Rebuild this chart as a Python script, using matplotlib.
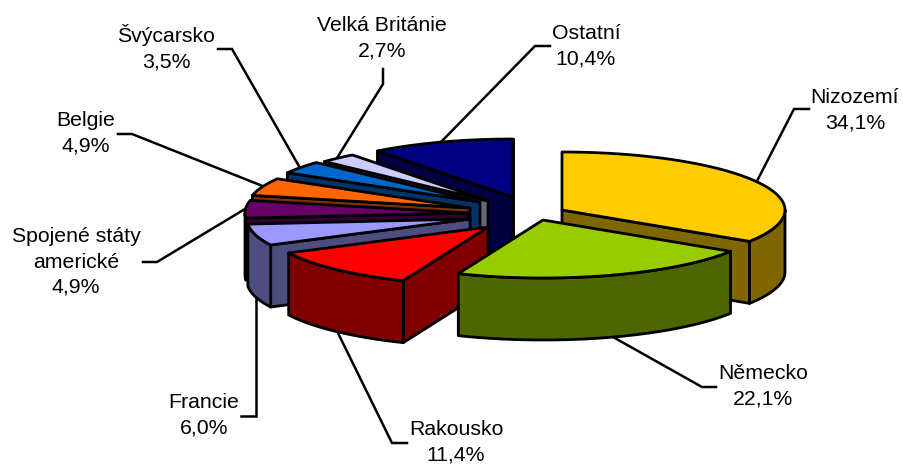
import numpy as np
import matplotlib
matplotlib.use("Agg")
import matplotlib.pyplot as plt
from matplotlib.patches import Polygon

categories = ["Nizozemí", "Německo", "Rakousko", "Francie", "Spojené státy\namerické",
              "Belgie", "Švýcarsko", "Velká Británie", "Ostatní"]
values = [34.1, 22.1, 11.4, 6.0, 4.9, 4.9, 3.5, 2.7, 10.4]
top_colors = ["#FFCC00", "#99CC00", "#FF0000", "#9999FF", "#660066",
              "#FF6600", "#0066CC", "#CCCCFF", "#000080"]
side_colors = ["#806600", "#4D6600", "#800000", "#4D4D80", "#330033",
               "#803300", "#003366", "#666680", "#000040"]

# rozlozeni v pixelech
CENTER = (505, 210)
RX, RY, DEPTH = 223, 58, 62
EXPLODE = [(57, 0), (38, 10), (-17, 17), (-35, 9), (-37, 3),
           (-35, -2), (-25, -8), (-17, -9), (8, -13)]
LABEL_POS = [(855, 110), (763, 386), (456, 442), (204, 415), (76, 262),
             (86, 133), (166, 48), (382, 38), (586, 46)]
LEADERS = [[(809, 109), (794, 109), (757, 181)],
           [(716, 387), (702, 387), (613, 337)],
           [(407, 443), (392, 443), (337, 331)],
           [(241, 416), (256, 416), (256, 297)],
           [(143, 262), (157, 262), (245, 209)],
           [(118, 134), (132, 134), (265, 187)],
           [(218, 49), (232, 49), (300, 168)],
           [(383, 69), (383, 84), (337, 158)],
           [(550, 46), (535, 46), (440, 143)]]
LW = 2.0

fig = plt.figure(figsize=(9.04, 4.66), dpi=100)
ax = fig.add_axes([0, 0, 1, 1])
ax.set_xlim(0, 904)
ax.set_ylim(466, 0)
ax.axis("off")

edges = np.cumsum([0] + values) / sum(values) * 2 * np.pi


def rim(x0, y0, a, b):
    t = np.linspace(a, b, 60)
    return np.column_stack([x0 + RX * np.sin(t), y0 - RY * np.cos(t)])


def face(pts, color, z):
    ax.add_patch(Polygon(pts, closed=True, facecolor=color, edgecolor="black",
                         linewidth=LW, joinstyle="round", zorder=z))


def draw_slice(i, z):
    a, b = edges[i], edges[i + 1]
    x0 = CENTER[0] + EXPLODE[i][0]
    y0 = CENTER[1] + EXPLODE[i][1]
    down = np.array([0, DEPTH])
    apex = np.array([[x0, y0]])
    # rezy viditelne jen kdyz miri k divakovi
    if np.sin(a) < 0:
        p = rim(x0, y0, a, a)[:1]
        face(np.vstack([apex, p, p + down, apex + down]), side_colors[i], z)
    if np.sin(b) > 0:
        p = rim(x0, y0, b, b)[:1]
        face(np.vstack([apex, p, p + down, apex + down]), side_colors[i], z)
    # vnejsi plast
    lo, hi = max(a, np.pi / 2), min(b, 3 * np.pi / 2)
    if hi > lo:
        r = rim(x0, y0, lo, hi)
        face(np.vstack([r, (r + down)[::-1]]), side_colors[i], z)
    face(np.vstack([apex, rim(x0, y0, a, b)]), top_colors[i], z)


mids = (edges[:-1] + edges[1:]) / 2
for z, i in enumerate(np.argsort(-np.cos(mids))):
    draw_slice(i, z + 5)

for line in LEADERS:
    xs, ys = zip(*line)
    ax.plot(xs, ys, color="black", lw=1.8, zorder=2, solid_joinstyle="miter")

for name, val, pos in zip(categories, values, LABEL_POS):
    txt = name + "\n" + f"{val:.1f}%".replace(".", ",")
    ax.text(pos[0], pos[1], txt, ha="center", va="center", fontsize=15.3,
            family="Liberation Sans", color="black", linespacing=1.42,
            multialignment="center", zorder=30)

fig.savefig("out.png", dpi=100)
